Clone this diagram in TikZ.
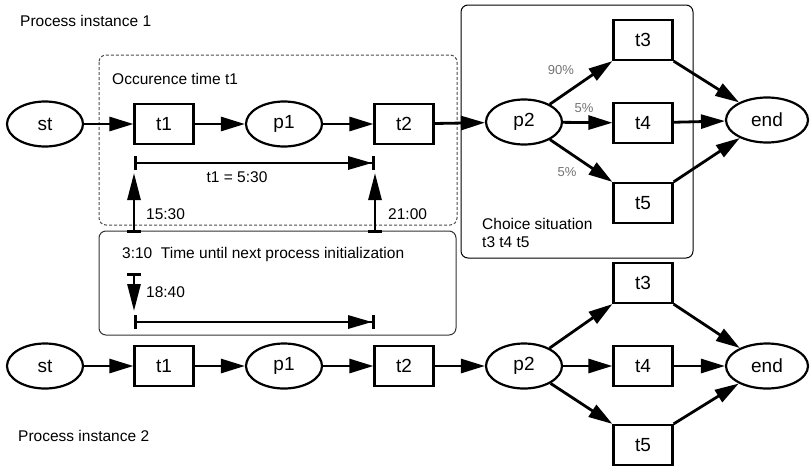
\documentclass[tikz,border=0pt]{standalone}
\usepackage{fontspec}
\setmainfont{Liberation Sans}
\usetikzlibrary{shapes.geometric,arrows.meta,positioning}

\tikzset{
place/.style={ellipse,draw,line width=2.2pt,minimum width=76pt,minimum height=45pt,inner sep=0pt,font=\fontsize{19}{21}\selectfont},
trans/.style={rectangle,draw,line width=2.2pt,minimum width=59pt,minimum height=40pt,inner sep=0pt,font=\fontsize{19}{21}\selectfont},
flow/.style={line width=2.8pt,-{Triangle[length=24pt,width=14pt]}},
timebar/.style={line width=2.8pt,{Bar[width=14pt]}-{Triangle[length=24pt,width=13pt]Bar[width=14pt]}},
timeup/.style={line width=2.8pt,{Bar[width=14pt]}-{Triangle[length=27pt,width=13pt]}},
lbl/.style={font=\fontsize{15.5}{18}\selectfont,inner sep=0pt,anchor=west},
prob/.style={font=\fontsize{13}{15}\selectfont,text=black!55,inner sep=0pt},
frame/.style={rounded corners=7pt,line width=1pt}
}

\begin{document}
\begin{tikzpicture}[x=1pt,y=-1pt]
\useasboundingbox (0,0) rectangle (810,466);
\draw[frame,dash pattern=on 3pt off 2pt,black!70] (99,55) rectangle (457,225);
\draw[frame,black!80] (99,231) rectangle (456,335);
\draw[frame] (461,5) rectangle (693,258);

\node[lbl] (inst1) at (20,21) {Process instance 1};
\node[lbl] (inst2) at (18,436) {Process instance 2};
\node[lbl] (occ) at (112,79) {Occurence time t1};
\node[lbl,align=left] (choice) at (482,233) {Choice situation\\t3 t4 t5};
\node[lbl] (next) at (122,254) {3:10\ \ Time until next process initialization};

\node[place] (st1) at (45,124) {st};
\node[trans] (ta1) at (164,124) {t1};
\node[place] (pa1) at (284,124) {p1};
\node[trans] (tb1) at (404,124) {t2};
\node[place] (pb1) at (524,122) {p2};
\node[trans] (tc1) at (643,40) {t3};
\node[trans] (td1) at (643,123) {t4};
\node[trans] (te1) at (643,203) {t5};
\node[place,minimum width=82pt] (end1) at (767,120) {end};

\draw[flow] (st1) -- (ta1);
\draw[flow] (ta1) -- (pa1);
\draw[flow] (pa1) -- (tb1);
\draw[flow] (tb1) -- (pb1);
\draw[flow] (pb1) -- (tc1.south west);
\draw[flow] (pb1) -- (td1);
\draw[flow] (pb1) -- (te1.north west);
\draw[flow] (tc1.south east) -- (end1);
\draw[flow] (td1) -- (end1);
\draw[flow] (te1.north east) -- (end1);

\node[prob] (q1) at (561,70) {90\%};
\node[prob] (q2) at (584,108) {5\%};
\node[prob] (q3) at (567,172) {5\%};

\coordinate (s1) at (134,163);
\coordinate (s2) at (375,163);
\coordinate (u1) at (134,233);
\coordinate (u2) at (375,233);
\coordinate (d1) at (134,273);
\coordinate (d2) at (134,311);
\coordinate (r1) at (134,322);
\coordinate (r2) at (375,322);
\draw[timebar] (s1) -- (s2);
\draw[timeup] (u1) -- (s1 |- 0,173);
\draw[timeup] (u2) -- (s2 |- 0,173);
\draw[timeup] (d1) -- (d2);
\draw[timebar] (r1) -- (r2);
\node[font=\fontsize{15.5}{18}\selectfont] (dur) at (237,177) {t1 = 5:30};
\node[lbl] (start) at (146,214) {15:30};
\node[lbl] (stop) at (388,214) {21:00};
\node[lbl] (again) at (146,292) {18:40};

\node[place] (st2) at (45,366) {st};
\node[trans] (ta2) at (164,366) {t1};
\node[place] (pa2) at (284,366) {p1};
\node[trans] (tb2) at (404,366) {t2};
\node[place] (pb2) at (524,366) {p2};
\node[trans] (tc2) at (643,283) {t3};
\node[trans] (td2) at (643,366) {t4};
\node[trans] (te2) at (643,445) {t5};
\node[place,minimum width=82pt] (end2) at (767,366) {end};

\draw[flow] (st2) -- (ta2);
\draw[flow] (ta2) -- (pa2);
\draw[flow] (pa2) -- (tb2);
\draw[flow] (tb2) -- (pb2);
\draw[flow] (pb2) -- (tc2.south west);
\draw[flow] (pb2) -- (td2);
\draw[flow] (pb2) -- (te2.north west);
\draw[flow] (tc2.south east) -- (end2);
\draw[flow] (td2) -- (end2);
\draw[flow] (te2.north east) -- (end2);
\end{tikzpicture}
\end{document}
